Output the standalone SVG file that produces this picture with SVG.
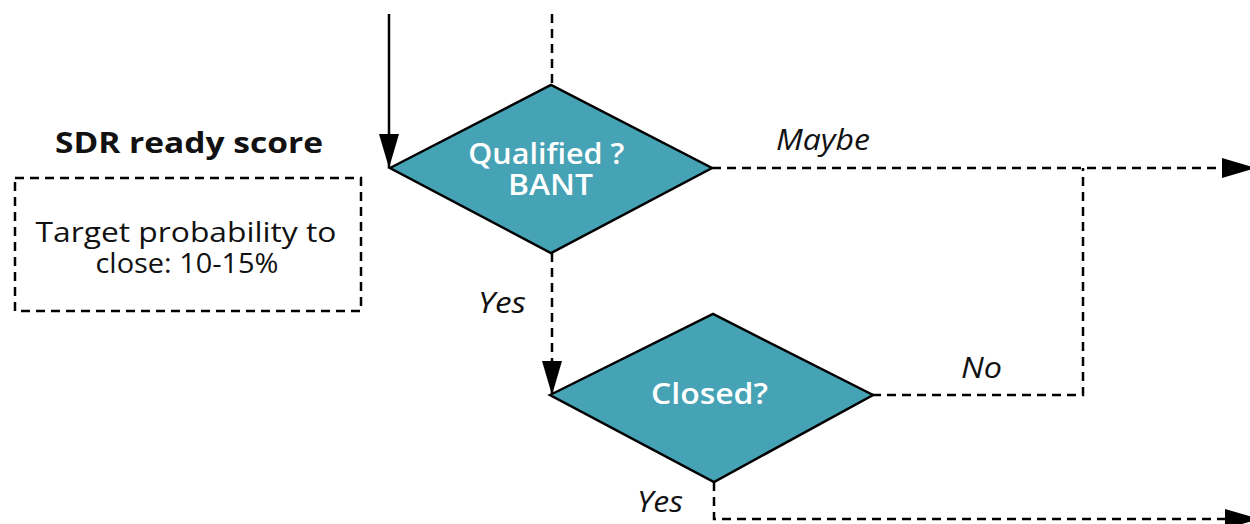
<svg xmlns="http://www.w3.org/2000/svg" width="1250" height="524" viewBox="0 0 1250 524">
  <style>
    .lbl { font-family: "Open Sans", "Liberation Sans", sans-serif; font-size: 29px; fill: #111; }
    .it { font-style: italic; }
    .title { font-weight: bold; font-size: 29px; }
    .two { font-size: 27px; }
    .dtext { font-family: "Open Sans", "Liberation Sans", sans-serif; font-size: 28px; font-weight: 600; fill: #fff; }
    .diamond { fill: #46a3b5; stroke: #000; stroke-width: 2.5; }
    .solid { fill: none; stroke: #000; stroke-width: 2.5; }
    .dash { fill: none; stroke: #000; stroke-width: 2.5; stroke-dasharray: 9 6; }
  </style>
  <defs>
    <marker id="head" markerUnits="userSpaceOnUse" viewBox="0 0 34 20" refX="34" refY="10" markerWidth="34" markerHeight="20" orient="auto">
      <path d="M0,0 L34,10 L0,20 Z" fill="#000"/>
    </marker>
  </defs>
  <rect width="1250" height="524" fill="#fff"/>

  <!-- side note -->
  <g id="sdr-note">
    <text class="lbl title" x="189" y="153" text-anchor="middle" textLength="268" lengthAdjust="spacingAndGlyphs">SDR ready score</text>
    <rect x="15" y="178" width="346" height="133" class="dash"/>
    <text class="lbl two" text-anchor="middle">
      <tspan x="189.5" y="242" textLength="301" lengthAdjust="spacingAndGlyphs">Target probability to</tspan>
      <tspan x="187" y="273" textLength="183" lengthAdjust="spacingAndGlyphs">close: 10-15%</tspan>
    </text>
  </g>

  <!-- connectors -->
  <g id="connectors">
    <path class="solid" d="M389,14 V168" marker-end="url(#head)"/>
    <path class="dash" d="M552,14 V85"/>
    <path class="dash" d="M712,168 H1256" marker-end="url(#head)"/>
    <path class="dash" d="M552,253 V395" marker-end="url(#head)"/>
    <path class="dash" d="M872,395 H1083 V168"/>
    <path class="dash" d="M714,482 V519 H1259" marker-end="url(#head)"/>
    <text class="lbl it" x="823" y="150" text-anchor="middle" textLength="94" lengthAdjust="spacingAndGlyphs">Maybe</text>
    <text class="lbl it" x="502" y="313" text-anchor="middle" textLength="48" lengthAdjust="spacingAndGlyphs">Yes</text>
    <text class="lbl it" x="981.5" y="378" text-anchor="middle" textLength="41" lengthAdjust="spacingAndGlyphs">No</text>
    <text class="lbl it" x="660" y="512" text-anchor="middle" textLength="46" lengthAdjust="spacingAndGlyphs">Yes</text>
  </g>

  <g id="qualified">
    <path class="diamond" d="M390,168 L551,85 L712,168 L551,253 Z"/>
    <text class="dtext two" text-anchor="middle">
      <tspan x="550" y="164" textLength="156" lengthAdjust="spacingAndGlyphs">Qualified ?</tspan>
      <tspan x="550.5" y="195" textLength="85" lengthAdjust="spacingAndGlyphs">BANT</tspan>
    </text>
  </g>

  <g id="closed">
    <path class="diamond" d="M550,395 L713,314 L873,395 L714,482 Z"/>
    <text class="dtext" x="709.5" y="404" text-anchor="middle" textLength="117" lengthAdjust="spacingAndGlyphs">Closed?</text>
  </g>
</svg>
